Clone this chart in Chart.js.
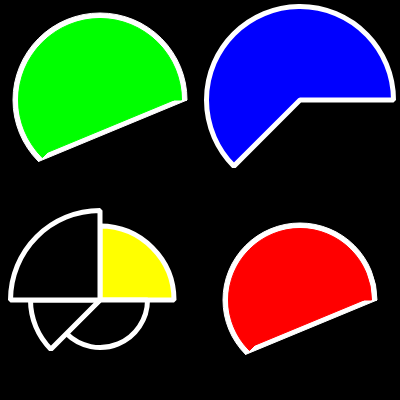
<!DOCTYPE html>
<html>
<head>
<meta charset="utf-8">
<script src="https://cdn.jsdelivr.net/npm/chart.js@4/dist/chart.umd.min.js"></script>
<style>
    body { margin: 0; background: #000; }
    .quadro { position: absolute; width: 200px; height: 200px; }
</style>
</head>
<body>
<div class="quadro" style="left:0;top:0"><canvas id="graficoVerde"></canvas></div>
<div class="quadro" style="left:200px;top:0"><canvas id="graficoAzul"></canvas></div>
<div class="quadro" style="left:0;top:200px"><canvas id="graficoPolar"></canvas></div>
<div class="quadro" style="left:200px;top:200px"><canvas id="graficoVermelho"></canvas></div>
<script>
// Valores (raio na escala 0-100 de cada gráfico)
const anguloFatia = 225;   // graus cobertos pelas formas simples
const inicioFatia = 225;   // startAngle da escala r (0 = topo)
const raioVerde = 84.5;
const raioAzul = 93.5;
const raioVermelho = 74.5;

// Gráfico polar de baixo à esquerda
const rotulosPolar = ['A', 'B', 'C', 'D'];
const angulosPolar = [90, 135, 45, 90];
const raiosPolar = [74, 47.5, 69.5, 89.5];
const coresPolar = ['#ffff00', '#000000', '#000000', '#000000'];

const escalaMax = 100;
const borda = 5;

function opcoesBase(inicio) {
    return {
        responsive: true,
        maintainAspectRatio: false,
        animation: false,
        events: [],
        plugins: { legend: { display: false }, tooltip: { enabled: false } },
        scales: {
            r: { display: false, min: 0, max: escalaMax, startAngle: inicio }
        }
    };
}

// Fatia simples com borda branca
function graficoFatia(id, raio, cor) {
    new Chart(document.getElementById(id), {
        type: 'polarArea',
        data: {
            labels: ['fatia'],
            datasets: [{
                data: [raio],
                angle: anguloFatia,
                backgroundColor: cor,
                borderColor: '#ffffff',
                borderWidth: borda
            }]
        },
        options: opcoesBase(inicioFatia)
    });
}

// Fatia fechada por uma corda: arco + triângulo (circular: false),
// cor por cima de uma camada branca um pouco maior que faz a borda
function graficoCorda(id, raio, cor) {
    let anguloResto = 360 - anguloFatia;
    let cosMeio = Math.cos(anguloResto / 2 * Math.PI / 180);
    let raioBranco = raio + borda / 2;
    let raioCorda = raioBranco - borda / cosMeio;

    new Chart(document.getElementById(id), {
        type: 'polarArea',
        data: {
            labels: ['arco', 'corda'],
            datasets: [{
                data: [raio - borda / 2 - 0.5, raioCorda],
                angle: [anguloFatia, anguloResto],
                circular: [true, false],
                backgroundColor: cor,
                borderColor: cor,
                borderWidth: 1
            }, {
                data: [raioBranco, raioBranco],
                angle: [anguloFatia, anguloResto],
                circular: [true, false],
                backgroundColor: '#ffffff',
                borderColor: '#ffffff',
                borderWidth: 1
            }]
        },
        options: opcoesBase(inicioFatia)
    });
}

function graficoPolar(id) {
    new Chart(document.getElementById(id), {
        type: 'polarArea',
        data: {
            labels: rotulosPolar,
            datasets: [{
                data: raiosPolar,
                angle: angulosPolar,
                backgroundColor: coresPolar,
                borderColor: '#ffffff',
                borderWidth: borda
            }]
        },
        options: opcoesBase(0)
    });
}

graficoCorda('graficoVerde', raioVerde, '#00ff00');
graficoFatia('graficoAzul', raioAzul, '#0000ff');
graficoPolar('graficoPolar');
graficoCorda('graficoVermelho', raioVermelho, '#ff0000');
</script>
</body>
</html>
